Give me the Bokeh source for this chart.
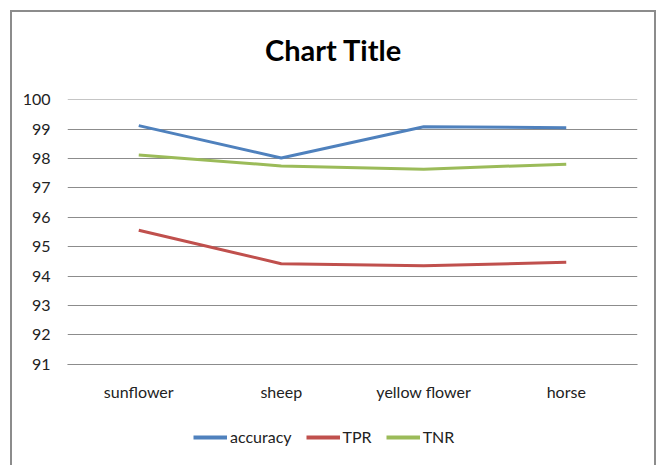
from bokeh.plotting import figure
from bokeh.models import Legend, LegendItem, FactorRange, Range1d, Label
from bokeh.layouts import column
from bokeh.embed import file_html
from bokeh.resources import INLINE

categories = ["sunflower", "sheep", "yellow flower", "horse"]
accuracy = [99.12, 98.02, 99.08, 99.05]
tpr = [95.56, 94.42, 94.35, 94.47]
tnr = [98.12, 97.75, 97.64, 97.81]
y_ticks = [91, 92, 93, 94, 95, 96, 97, 98, 99, 100]
series_names = ["accuracy", "TPR", "TNR"]
series_colors = ["#4F81BD", "#C0504D", "#9BBB59"]
series_values = [accuracy, tpr, tnr]
title_text = "Chart Title"

FONT = "Lato"

# title strip
p0 = figure(width=642, height=60, output_backend="svg", toolbar_location=None,
            min_border=0, x_range=Range1d(0, 1), y_range=Range1d(0, 1))
p0.axis.visible = False
p0.grid.visible = False
p0.outline_line_color = None
p0.add_layout(Label(x=266, y=23, x_units="screen", y_units="screen", text=title_text,
                    text_font=FONT, text_font_size="29px", text_font_style="bold",
                    text_color="#000000", text_align="center", text_baseline="middle"))

p = figure(width=642, height=340, x_range=FactorRange(*categories, range_padding=0),
           y_range=Range1d(90.99, 100.01), output_backend="svg", toolbar_location=None,
           min_border_left=55, min_border_right=17, min_border_top=27, min_border_bottom=48)
p.outline_line_color = None
p.xgrid.grid_line_color = None
p.ygrid.grid_line_color = "#8c8c8c"
p.ygrid.grid_line_width = 1
p.yaxis.ticker = y_ticks
p.yaxis.axis_line_color = None
p.yaxis.major_tick_line_color = None
p.yaxis.minor_tick_line_color = None
p.yaxis.major_tick_out = 0
p.yaxis.major_label_standoff = 17
p.xaxis.axis_line_color = "#8c8c8c"
p.xaxis.major_tick_line_color = None
p.xaxis.major_tick_out = 0
p.xaxis.major_label_standoff = 17
for ax in (p.xaxis, p.yaxis):
    ax.major_label_text_font = FONT
    ax.major_label_text_font_size = "16px"
    ax.major_label_text_color = "#222222"

for vals, col in zip(series_values, series_colors):
    p.line(categories, vals, line_color=col, line_width=3)

# legend strip below the chart (its lines lie outside its visible y range)
p2 = figure(width=642, height=53, output_backend="svg", toolbar_location=None,
            min_border=0, x_range=FactorRange(*categories, range_padding=0),
            y_range=Range1d(0, 1))
p2.axis.visible = False
p2.grid.visible = False
p2.outline_line_color = None
leg_r = [p2.line(categories, vals, line_color=c, line_width=4)
         for vals, c in zip(series_values, series_colors)]
legend = Legend(items=[LegendItem(label=n, renderers=[r]) for n, r in zip(series_names, leg_r)],
                orientation="horizontal", location=(126, 19),
                border_line_color=None, background_fill_alpha=0,
                label_text_font=FONT, label_text_font_size="16px",
                label_text_color="#222222",
                glyph_width=34, glyph_height=12, label_standoff=3, spacing=14,
                padding=0, margin=0)
p2.add_layout(legend, "center")

layout = column(p0, p, p2, spacing=0,
                styles={"border": "2px solid #8c8c8c", "border-bottom": "none",
                        "margin-left": "10px", "margin-top": "10px"})

open("out.html", "w").write(file_html(layout, INLINE))
